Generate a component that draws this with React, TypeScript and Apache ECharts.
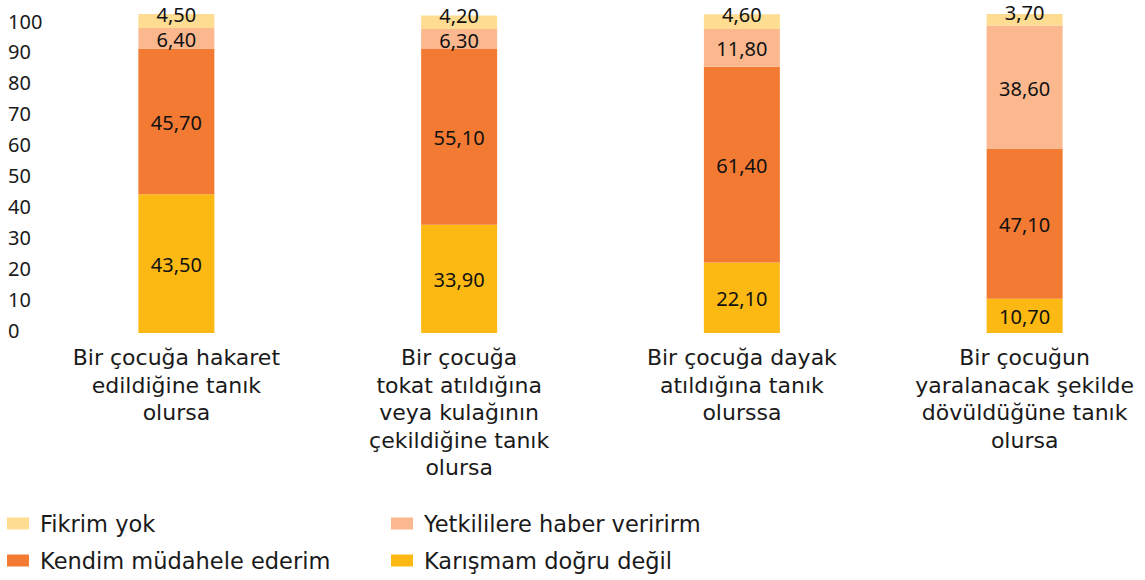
import React, { useEffect, useRef } from "react";
import * as echarts from "echarts";

const categories = [
  "Bir çocuğa hakaret\nedildiğine tanık\nolursa",
  "Bir çocuğa\ntokat atıldığına\nveya kulağının\nçekildiğine tanık\nolursa",
  "Bir çocuğa dayak\natıldığına tanık\nolurssa",
  "Bir çocuğun\nyaralanacak şekilde\ndövüldüğüne tanık\nolursa",
];

const karismam = [43.5, 33.9, 22.1, 10.7];
const kendim = [45.7, 55.1, 61.4, 47.1];
const yetkililere = [6.4, 6.3, 11.8, 38.6];
const fikrimYok = [4.5, 4.2, 4.6, 3.7];

const seriesNames = [
  "Karışmam doğru değil",
  "Kendim müdahele ederim",
  "Yetkililere haber veririrm",
  "Fikrim yok",
];
const colors = ["#FDB913", "#F37A32", "#FBB88E", "#FEDC92"];

const sansFont = "'Noto Sans', sans-serif";
const textFont = "'DejaVu Sans', sans-serif";

export default function App() {
  const ref = useRef<HTMLDivElement>(null);
  useEffect(() => {
    document.body.style.margin = "0";
    if (!ref.current) return;
    const chart = echarts.init(ref.current, null, { renderer: "svg" });
    const fmt = (p: any) => Number(p.value).toFixed(2).replace(".", ",");
    const datas = [karismam, kendim, yetkililere, fikrimYok];
    const series = datas.map((d, i) => ({
      name: seriesNames[i],
      type: "bar",
      stack: "total",
      barWidth: 76,
      data: d,
      itemStyle: { color: colors[i] },
      label: {
        show: true,
        position: "inside",
        formatter: fmt,
        color: "#111",
        fontFamily: sansFont,
        fontSize: 20,
        lineHeight: 17,
        offset: i === 3 ? [0, -7] : [0, 1],
      },
    }));
    const legendPos = [
      { name: "Fikrim yok", left: 2, top: 507 },
      { name: "Yetkililere haber veririrm", left: 386, top: 507 },
      { name: "Kendim müdahele ederim", left: 2, top: 544 },
      { name: "Karışmam doğru değil", left: 386, top: 544 },
    ];
    chart.setOption({
      animation: false,
      grid: [
        { left: 35, right: 0, top: 14, bottom: 247 },
        { left: 35, right: 0, top: 21, bottom: 250 },
      ],
      legend: legendPos.map((l) => ({
        data: [l.name],
        left: l.left,
        top: l.top,
        icon: "rect",
        itemWidth: 22,
        itemHeight: 12,
        selectedMode: false,
        textStyle: {
          fontFamily: textFont,
          fontSize: 22.5,
          color: "#1a1a1a",
          padding: [0, 0, 0, 6],
        },
      })),
      xAxis: [
        {
          type: "category",
          gridIndex: 0,
          data: categories,
          axisLine: { show: false },
          axisTick: { show: false },
          axisLabel: {
            interval: 0,
            margin: 11,
            fontFamily: textFont,
            fontSize: 22,
            lineHeight: 27.5,
            color: "#1a1a1a",
          },
        },
        {
          type: "category",
          gridIndex: 1,
          data: categories,
          show: false,
        },
      ],
      yAxis: [
        {
          type: "value",
          gridIndex: 0,
          min: 0,
          max: 100,
          interval: 10,
          splitLine: { show: false },
          axisLine: { show: false },
          axisTick: { show: false },
          axisLabel: { show: false },
        },
        {
          type: "value",
          gridIndex: 1,
          min: 0,
          max: 100,
          interval: 10,
          splitLine: { show: false },
          axisLine: { show: false },
          axisTick: { show: false },
          axisLabel: {
            align: "left",
            margin: 27,
            fontFamily: sansFont,
            fontSize: 20,
            color: "#1a1a1a",
          },
        },
      ],
      series,
    });
    return () => chart.dispose();
  }, []);
  return (
    <div style={{ width: 1145, height: 580, overflow: "hidden" }}>
      <div ref={ref} style={{ width: 1166, height: 580 }} />
    </div>
  );
}
